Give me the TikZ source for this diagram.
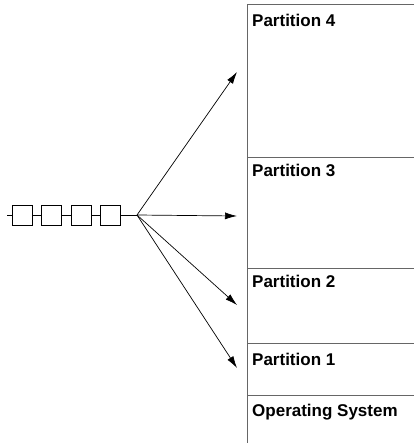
\documentclass[tikz,border=0pt]{standalone}
\usepackage{fontspec}
\setmainfont{Liberation Sans}
\usetikzlibrary{arrows.meta}
\tikzset{
  qbox/.style={draw, line width=0.8pt, minimum width=20pt, minimum height=20pt, inner sep=0pt},
  plabel/.style={anchor=base west, font=\fontsize{17}{20}\selectfont\bfseries, inner sep=0pt},
  memline/.style={line width=1pt, black!60},
  feed/.style={-{Latex[length=12pt,width=7pt]}, line width=0.7pt}
}
\begin{document}
\begin{tikzpicture}[x=1pt, y=-1pt]
    \useasboundingbox (0,0) rectangle (414,443);
    % memory column
    \draw[memline] (414,5) -- (247,5) -- (247,443);
    \foreach \y in {158,268,343,395}
    \draw[memline] (247,\y) -- (414,\y);
    \node[plabel] (part4) at (252,27) {Partition 4};
    \node[plabel] (part3) at (252,177) {Partition 3};
    \node[plabel] (part2) at (252,287) {Partition 2};
    \node[plabel] (part1) at (252,365) {Partition 1};
    \node[plabel] (os) at (252,416) {Operating System};
    % job queue
    \coordinate (qin) at (7,215);
    \coordinate (fan) at (137,215);
    \node[qbox] (q1) at (22,215) {};
    \node[qbox] (q2) at (51.5,215) {};
    \node[qbox] (q3) at (81,215) {};
    \node[qbox] (q4) at (110.5,215) {};
    \draw[line width=0.7pt] (qin) -- (q1) -- (q2) -- (q3) -- (q4) -- (fan);
    % arrows into partitions
    \coordinate (t4) at (237,72);
    \coordinate (t3) at (237,216);
    \coordinate (t2) at (237,305);
    \coordinate (t1) at (237,368);
    \foreach \t in {t1,t2,t3,t4}
    \draw[feed] (fan) -- (\t);
  \end{tikzpicture}
\end{document}
